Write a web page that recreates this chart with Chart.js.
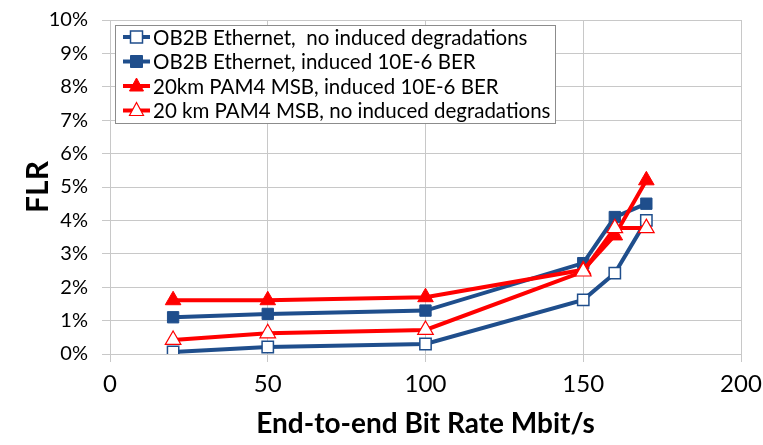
<!DOCTYPE html>
<html>
<head>
<meta charset="utf-8">
<script src="https://cdn.jsdelivr.net/npm/chart.js@4.4.0/dist/chart.umd.min.js"></script>
<style>
  html, body { margin: 0; padding: 0; background: #fff; }
</style>
</head>
<body>
<canvas id="flr" width="763" height="445"></canvas>
<script>
// data (FLR in %)
const bitRates = [20, 50, 100, 150, 160, 170];
const seriesNames = [
  'OB2B Ethernet,  no induced degradations',
  'OB2B Ethernet, induced 10E-6 BER',
  '20km PAM4 MSB, induced 10E-6 BER',
  '20 km PAM4 MSB, no induced degradations'
];
const ob2bClean = [0.06, 0.21, 0.3, 1.62, 2.42, 4.0];
const ob2bBer = [1.1, 1.2, 1.3, 2.72, 4.1, 4.5];
const pam4Ber = [1.61, 1.61, 1.7, 2.52, 3.55, 5.2];
const pam4Clean = [0.42, 0.62, 0.72, 2.47, 3.77, 3.77];
const xTicks = [0, 50, 100, 150, 200];

const blue = '#1F4E8C';
const red = '#FF0000';
const font = 'Lato, "Liberation Sans", sans-serif';

function pts(vals) {
  return vals.map((v, i) => ({ x: bitRates[i], y: v }));
}

// legend drawn inside the plot, like the original
const boxLegend = {
  id: 'boxLegend',
  afterDraw(chart) {
    const ctx = chart.ctx;
    const a = chart.chartArea;
    const x0 = a.left + 5, y0 = a.top + 5;
    const w = 440, h = 98, row = 24.5;
    ctx.save();
    ctx.fillStyle = '#fff';
    ctx.fillRect(x0, y0, w, h);
    ctx.strokeStyle = '#8c8c8c';
    ctx.lineWidth = 1;
    ctx.strokeRect(x0 + 0.5, y0 + 0.5, w, h);
    ctx.font = '20.5px ' + font;
    ctx.textBaseline = 'middle';
    chart.data.datasets.forEach((ds, i) => {
      const cy = y0 + 12 + i * row;
      const lx = x0 + 8;
      const mx = lx + 13.5;
      ctx.strokeStyle = ds.borderColor;
      ctx.lineWidth = 4;
      ctx.beginPath();
      ctx.moveTo(lx, cy);
      ctx.lineTo(lx + 27, cy);
      ctx.stroke();
      ctx.fillStyle = ds.pointBackgroundColor;
      ctx.strokeStyle = ds.pointBorderColor;
      ctx.lineWidth = ds.pointBorderWidth;
      ctx.beginPath();
      if (ds.pointStyle === 'rect') {
        ctx.rect(mx - 6, cy - 6, 12, 12);
      } else {
        ctx.moveTo(mx, cy - 8);
        ctx.lineTo(mx + 7, cy + 5);
        ctx.lineTo(mx - 7, cy + 5);
        ctx.closePath();
      }
      ctx.fill();
      ctx.stroke();
      ctx.fillStyle = '#000';
      ctx.fillText(ds.label, lx + 30, cy + 1);
    });
    ctx.restore();
  }
};

new Chart(document.getElementById('flr'), {
  type: 'line',
  data: {
    datasets: [
      {
        label: seriesNames[0], data: pts(ob2bClean), order: 3,
        borderColor: blue, borderWidth: 4,
        pointStyle: 'rect', pointRadius: 8, pointBackgroundColor: '#fff',
        pointBorderColor: blue, pointBorderWidth: 1.5
      },
      {
        label: seriesNames[1], data: pts(ob2bBer), order: 2,
        borderColor: blue, borderWidth: 4,
        pointStyle: 'rect', pointRadius: 8, pointBackgroundColor: blue,
        pointBorderColor: blue, pointBorderWidth: 1
      },
      {
        label: seriesNames[2], data: pts(pam4Ber), order: 1,
        borderColor: red, borderWidth: 4,
        pointStyle: 'triangle', pointRadius: 9, pointBackgroundColor: red,
        pointBorderColor: red, pointBorderWidth: 1
      },
      {
        label: seriesNames[3], data: pts(pam4Clean), order: 0,
        borderColor: red, borderWidth: 4,
        pointStyle: 'triangle', pointRadius: 9, pointBackgroundColor: '#fff',
        pointBorderColor: red, pointBorderWidth: 1.2
      }
    ]
  },
  options: {
    responsive: false,
    animation: false,
    layout: { padding: { top: 20, right: 22, left: 0, bottom: 0 } },
    scales: {
      x: {
        type: 'linear', min: 0, max: 200,
        afterBuildTicks: s => { s.ticks = xTicks.map(v => ({ value: v })); },
        afterFit: s => { s.height = 91; s.paddingRight = 0; s.paddingLeft = 0; },
        grid: { color: '#c8c8c8', tickLength: 8 },
        border: { color: '#c8c8c8' },
        ticks: { color: '#000', font: { family: font, size: 24 }, padding: 8 },
        title: {
          display: true, text: 'End-to-end Bit Rate Mbit/s', color: '#000',
          font: { family: font, size: 28, weight: 'bold' }, padding: { top: 0 }
        }
      },
      y: {
        min: 0, max: 10,
        afterFit: s => { s.width = 110; s.paddingTop = 0; s.paddingBottom = 0; },
        grid: { color: '#c8c8c8', tickLength: 8 },
        border: { color: '#c8c8c8' },
        ticks: {
          stepSize: 1, color: '#000', padding: 14,
          font: { family: font, size: 20 },
          callback: v => v + '%'
        },
        title: {
          display: true, text: 'FLR', color: '#000',
          font: { family: font, size: 30, weight: 'bold' }, padding: { top: 20, bottom: 0 }
        }
      }
    },
    plugins: {
      legend: { display: false },
      tooltip: { enabled: false }
    }
  },
  plugins: [boxLegend]
});
</script>
</body>
</html>
